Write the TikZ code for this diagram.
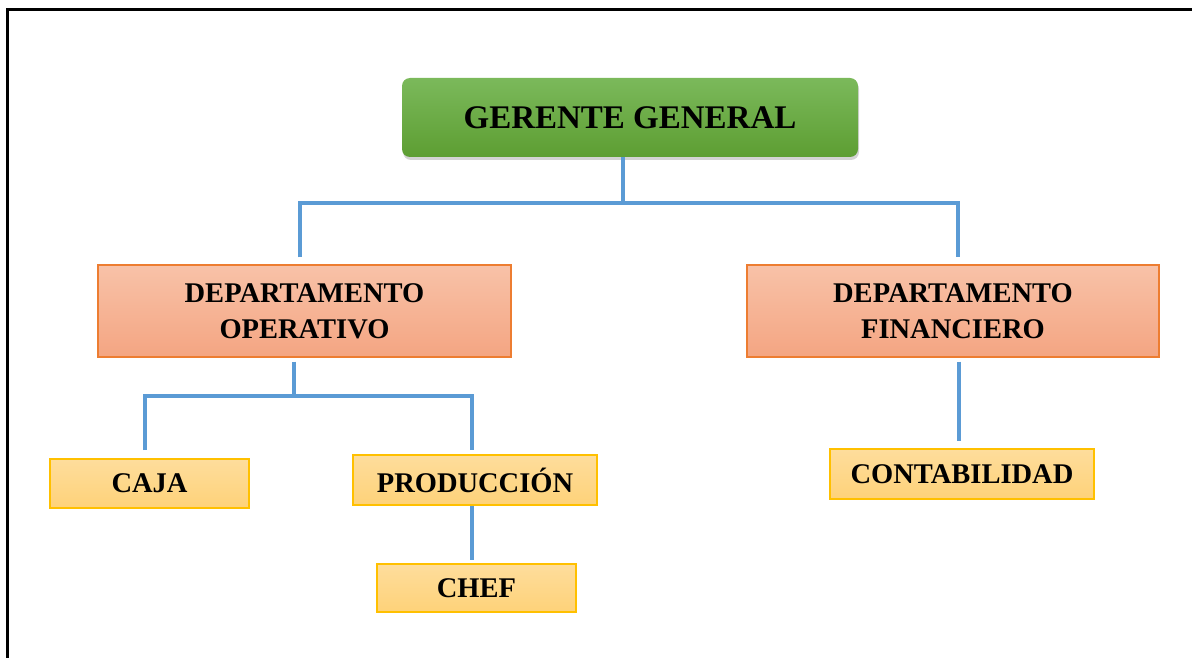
\documentclass[tikz,border=0pt]{standalone}
\usepackage{fontspec}
\setmainfont{Liberation Serif}
\usetikzlibrary{shadows,calc}
\definecolor{conncol}{HTML}{5B9BD5}
\definecolor{greentop}{HTML}{7BB95B}
\definecolor{greenbot}{HTML}{5D9E32}
\definecolor{salmtop}{HTML}{F8C2A8}
\definecolor{salmbot}{HTML}{F4A582}
\definecolor{salmline}{HTML}{ED7D31}
\definecolor{yeltop}{HTML}{FEDD9C}
\definecolor{yelbot}{HTML}{FED279}
\definecolor{yelline}{HTML}{FFC000}
\tikzset{
  conn/.style={draw=conncol, line width=3.5pt},
  topbox/.style={rounded corners=8pt, top color=greentop, bottom color=greenbot,
    draw=none, drop shadow={opacity=0.35, shadow xshift=1pt, shadow yshift=-3pt},
    font=\bfseries\fontsize{33}{38}\selectfont, inner sep=0pt, align=center},
  deptbox/.style={top color=salmtop, bottom color=salmbot, draw=salmline, line width=1.3pt,
    font=\bfseries\fontsize{28.5}{36}\selectfont, inner sep=0pt, align=center},
  unitbox/.style={top color=yeltop, bottom color=yelbot, draw=yelline, line width=1.8pt,
    font=\bfseries\fontsize{28.5}{32}\selectfont, inner sep=0pt, align=center},
}
\begin{document}
\begin{tikzpicture}[x=1pt,y=-1pt]
\useasboundingbox (0,0) rectangle (1192,658);
\draw[black, line width=3pt] (7,660) -- (7,10) -- (1194,10);

\node[topbox, minimum width=456pt, minimum height=79pt] (gg) at (630,117.5) {GERENTE GENERAL};
\node[deptbox, minimum width=413pt, minimum height=92pt] (op) at (304.5,311) {DEPARTAMENTO\\OPERATIVO};
\node[deptbox, minimum width=412pt, minimum height=92pt] (fin) at (953,311) {DEPARTAMENTO\\FINANCIERO};
\node[unitbox, minimum width=199pt, minimum height=49pt] (caja) at (149.5,483.5) {CAJA};
\node[unitbox, minimum width=244pt, minimum height=50pt] (prod) at (475,480) {PRODUCCIÓN};
\node[unitbox, minimum width=199pt, minimum height=48pt] (chef) at (476.5,588) {CHEF};
\node[unitbox, minimum width=264pt, minimum height=50pt] (cont) at (962,474) {CONTABILIDAD};

% top bus
\coordinate (busL) at (300,203);
\coordinate (busR) at (958,203);
\coordinate (busM) at (623,203);
\draw[conn] (busM |- gg.south) -- (busM);
\draw[conn] ([yshift=7pt]op.north -| busL) -- (busL) -- (busR) -- ([yshift=7pt]fin.north -| busR);

% operativo bus
\coordinate (obM) at (294,396);
\coordinate (obL) at (145,396);
\coordinate (obR) at (472,396);
\draw[conn] ([yshift=-4pt]op.south -| obM) -- (obM);
\draw[conn] ([yshift=8pt]caja.north -| obL) -- (obL) -- (obR) -- ([yshift=4pt]prod.north -| obR);

% produccion - chef
\draw[conn] (prod.south -| obR) -- ([yshift=3pt]chef.north -| obR);

% financiero - contabilidad
\coordinate (fx) at (959,0);
\draw[conn] ([yshift=-4pt]fin.south -| fx) -- ([yshift=7pt]cont.north -| fx);
\end{tikzpicture}
\end{document}
